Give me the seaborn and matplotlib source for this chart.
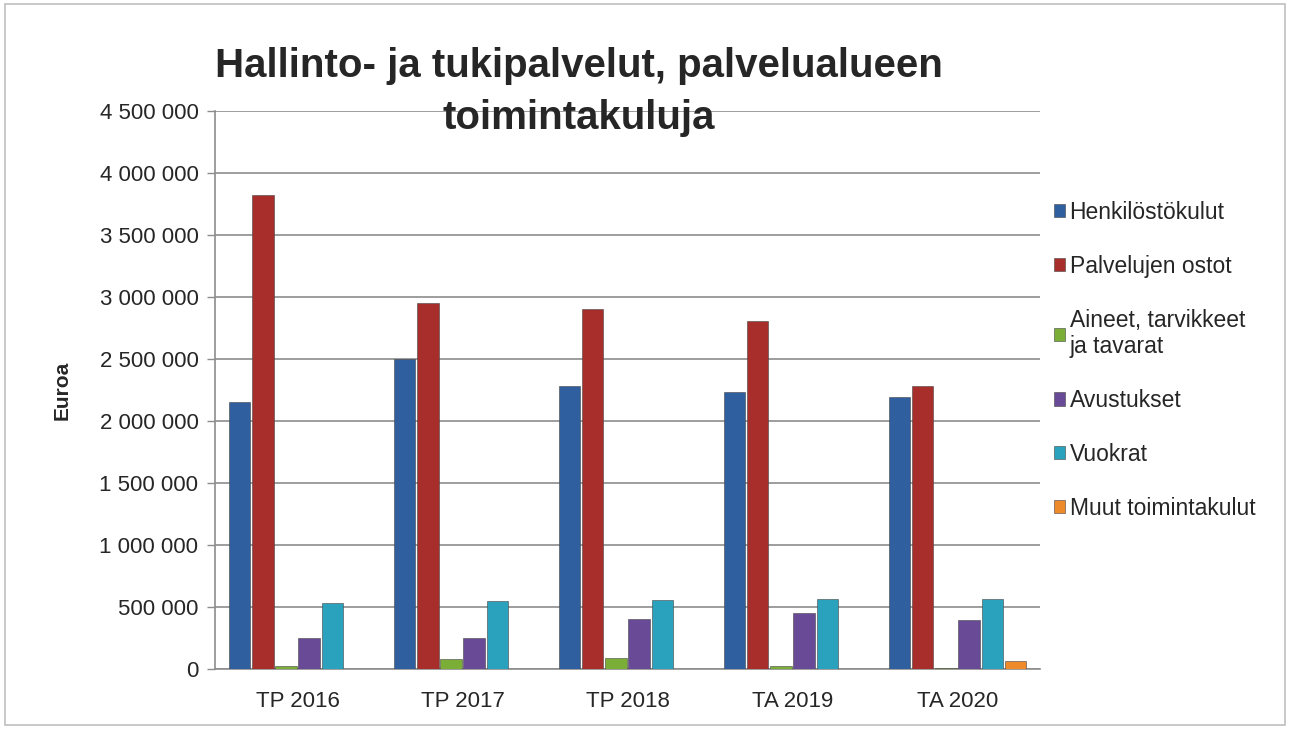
import numpy as np
import pandas as pd
import matplotlib
matplotlib.use("Agg")
import matplotlib.pyplot as plt
import seaborn as sns
from matplotlib.ticker import FuncFormatter
from matplotlib.patches import Rectangle

# data
vuodet = ["TP 2016", "TP 2017", "TP 2018", "TA 2019", "TA 2020"]
sarjat = ["Henkilöstökulut", "Palvelujen ostot", "Aineet, tarvikkeet\nja tavarat",
          "Avustukset", "Vuokrat", "Muut toimintakulut"]
henkilosto = [2153000, 2500000, 2282000, 2234000, 2194000]
palvelut = [3823000, 2952000, 2903000, 2806000, 2282000]
aineet = [24000, 83000, 91000, 24000, 10000]
avustukset = [254000, 250000, 406000, 454000, 392000]
vuokrat = [532000, 550000, 555000, 562000, 565000]
muut = [2000, 2000, 2000, 2000, 62000]
varit = ["#2F5F9E", "#A82E2B", "#7BAE37", "#694A97", "#2BA2BD", "#EE8A2A"]

arvot = [henkilosto, palvelut, aineet, avustukset, vuokrat, muut]
rows = []
for s, v in zip(sarjat, arvot):
    for yr, x in zip(vuodet, v):
        rows.append({"vuosi": yr, "sarja": s, "euroa": x})
df = pd.DataFrame(rows)

sns.set_theme(style="white")
plt.rcParams['font.family'] = ['Liberation Sans', 'DejaVu Sans']

fig = plt.figure(figsize=(12.9, 7.29), dpi=100)
ax = fig.add_axes([0.1667, 0.0823, 0.6395, 0.7654])

sns.barplot(data=df, x="vuosi", y="euroa", hue="sarja", order=vuodet,
            hue_order=sarjat, palette=varit, saturation=1, width=0.84, ax=ax,
            edgecolor="#444444", linewidth=0.4, errorbar=None, zorder=3)
# small gap between bars
for p in ax.patches:
    w = p.get_width()
    p.set_x(p.get_x() + w * 0.04)
    p.set_width(w * 0.92)

ax.set_ylim(0, 4500000)
ax.set_xlim(-0.5, 4.5)
ax.set_yticks(np.arange(0, 4500001, 500000))
ax.yaxis.set_major_formatter(FuncFormatter(lambda v, pos: f"{int(v):,}".replace(",", " ")))
ax.yaxis.grid(True, color="#8C8C8C", linewidth=1.2, zorder=0)
ax.set_axisbelow(True)

ax.set_xticks(range(len(vuodet)))
ax.set_xticklabels(vuodet)
ax.set_xticks(np.arange(-0.5, len(vuodet), 1), minor=True)
ax.tick_params(axis="x", which="major", length=0, labelsize=16, pad=16)
ax.tick_params(axis="x", which="minor", length=6, width=1, color="#8C8C8C", direction="out")
ax.tick_params(axis="y", length=6, width=1, color="#8C8C8C", direction="out",
               labelsize=16, left=True, pad=6)

for side in ["top", "right"]:
    ax.spines[side].set_visible(False)
for side in ["left", "bottom"]:
    ax.spines[side].set_color("#8C8C8C")
    ax.spines[side].set_linewidth(1.2)

ax.set_xlabel("")
ax.set_ylabel("Euroa", fontsize=15, fontweight="bold", labelpad=20)

fig.text(0.449, 0.874, "Hallinto- ja tukipalvelut, palvelualueen\ntoimintakuluja",
         ha="center", va="center", fontsize=29, fontweight="bold",
         linespacing=1.45, zorder=5)

ax.legend(loc="upper left", bbox_to_anchor=(0.997, 0.868), frameon=False,
          fontsize=16.5, handlelength=0.5, handleheight=0.5, handletextpad=0.2,
          labelspacing=1.35, borderaxespad=0.3)

fig.patches.append(Rectangle((0.004, 0.006), 0.992, 0.988, transform=fig.transFigure,
                             fill=False, edgecolor="#BFBFBF", linewidth=1.2))

fig.savefig("out.png", dpi=100)
